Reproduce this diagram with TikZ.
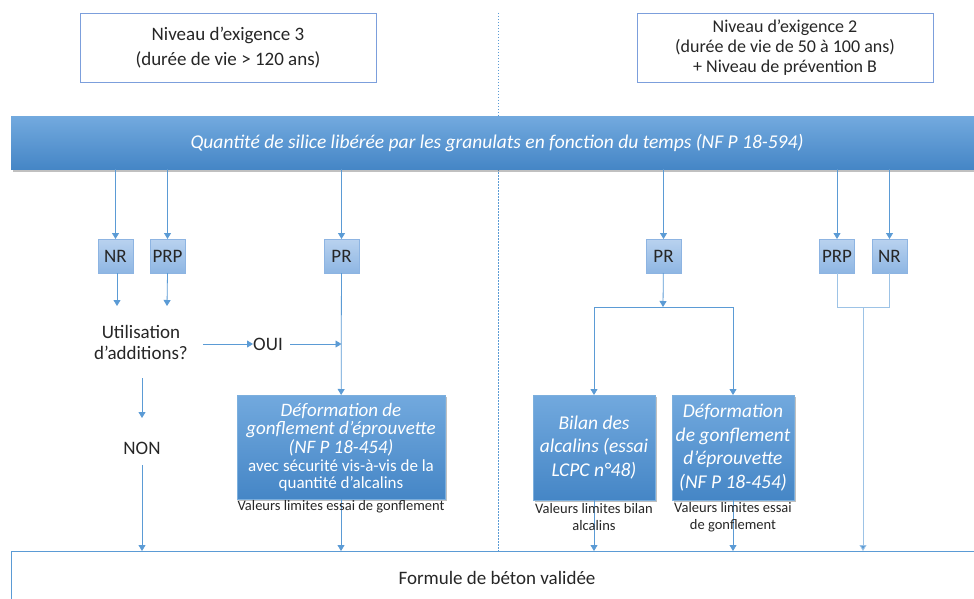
\documentclass[tikz,border=0pt]{standalone}
\usepackage{fontspec}
\setmainfont{Carlito}
\usetikzlibrary{arrows.meta,shadows,positioning}
\definecolor{lb}{HTML}{5B9BD5}
\definecolor{paleb}{HTML}{9DC3E6}
\definecolor{topbd}{HTML}{7C9FDC}
\definecolor{bantop}{HTML}{72A9DE}
\definecolor{banbot}{HTML}{4586C6}
\definecolor{stop}{HTML}{B9D2EF}
\definecolor{sbot}{HTML}{8EB6E3}
\definecolor{sbd}{HTML}{8DB4E2}
\definecolor{txt}{HTML}{262626}
\tikzset{
  topbox/.style={draw=topbd, line width=0.9pt, fill=white, align=center, inner sep=0pt, outer sep=0pt, text=txt},
  banner/.style={top color=bantop, bottom color=banbot, draw=none, inner sep=0pt, outer sep=0pt, text=white,
     drop shadow={shadow xshift=1.5pt, shadow yshift=-2.5pt, opacity=0.35, fill=black!70}},
  bigbox/.style={top color=bantop, bottom color=banbot, draw=lb!80, line width=0.5pt, align=center, inner sep=0pt, outer sep=0pt, text=white,
     drop shadow={shadow xshift=1.5pt, shadow yshift=-2pt, opacity=0.35, fill=black!70}},
  sbox/.style={top color=stop, bottom color=sbot, draw=sbd, line width=0.7pt, minimum width=35pt, minimum height=34pt,
     inner sep=0pt, outer sep=0pt, text=txt, font=\fontsize{19}{22}\selectfont},
  plain/.style={align=center, inner sep=0pt, outer sep=0pt, text=txt, font=\fontsize{19}{21}\selectfont},
  lab/.style={align=center, inner sep=0pt, outer sep=0pt, text=txt, font=\fontsize{14.5}{17.5}\selectfont},
  conn/.style={draw=lb, line width=0.8pt},
  pconn/.style={draw=paleb, line width=0.9pt},
  arr/.style={conn, -{Triangle[width=7pt,length=6pt]}},
  parr/.style={pconn, -{Triangle[width=7pt,length=6pt,fill=lb]}},
  dotline/.style={draw=lb, line width=0.7pt, dash pattern=on 1.5pt off 1.5pt}
}
\begin{document}
\begin{tikzpicture}[x=1pt,y=-1pt]
\useasboundingbox (0,0) rectangle (974,599);
\clip (0,0) rectangle (974,599);
\fill[white] (0,0) rectangle (974,599);

% dotted separator
\coordinate (dT) at (498,13);
\coordinate (dB) at (498,551);
\draw[dotline] (dT) -- (dB);

% top boxes
\node[topbox, minimum width=296pt, minimum height=69pt, font=\fontsize{19}{25}\selectfont] (n3) at (228,47.5)
  {Niveau d’exigence 3\\(durée de vie > 120 ans)};
\node[topbox, minimum width=296pt, minimum height=69pt, font=\fontsize{18}{20}\selectfont] (n2) at (785,47.5)
  {Niveau d’exigence 2\\(durée de vie de 50 à 100 ans)\\+ Niveau de prévention B};

% banner
\node[banner, minimum width=972pt, minimum height=52pt, font=\fontsize{19.5}{22}\selectfont\itshape] (ban) at (497,143)
  {Quantité de silice libérée par les granulats en fonction du temps (NF P 18-594)};

% small boxes
\node[sbox] (nrL) at (115.5,256) {NR};
\node[sbox] (prpL) at (167.5,256) {PRP};
\node[sbox] (prL) at (341.5,256) {PR};
\node[sbox] (prR) at (663.5,256) {PR};
\node[sbox] (prpR) at (837,256) {PRP};
\node[sbox] (nrR) at (889.5,256) {NR};

% bottom box
\node[draw=lb, line width=0.9pt, fill=white, anchor=north west, minimum width=990pt, minimum height=70pt, inner sep=0pt, outer sep=0pt] (bot) at (11,551) {};
\node[plain] (botT) at (497,578) {Formule de béton validée};

% arrows from banner
\foreach \n in {nrL,prpL,prL,prR,prpR,nrR}{
  \draw[arr] (ban.south -| \n) -- (\n);
}

% left side
\node[plain] (q) at (141,342) {Utilisation\\d’additions?};
\coordinate (qNR) at (117,306);
\coordinate (qPRP) at (167,306);
\draw[arr] (nrL.south -| qNR) -- (qNR);
\draw[arr] (prpL.south) -- (qPRP);

\node[plain] (oui) at (268,344) {OUI};
\coordinate (qo) at (203,344);
\coordinate (qo2) at (253,344);
\draw[arr] (qo) -- (qo2);
\coordinate (oo) at (290,344);
\draw[arr] (oo) -- (oo -| prL);

\node[bigbox, minimum width=208pt, minimum height=104pt, font=\fontsize{19}{18.5}\selectfont] (defL) at (341,447)
  {\itshape Déformation de\\
   \itshape gonflement d’éprouvette\\
   \itshape (NF P 18-454)\\
   \fontsize{17}{17}\selectfont avec sécurité vis-à-vis de la\\[-2pt]
   \fontsize{17}{17}\selectfont quantité d’alcalins};
\draw[arr] (prL) -- (defL);
\draw[arr] (defL) -- (defL |- bot.north);
\node[lab] (labL) at (341,507) {Valeurs limites essai de gonflement};

\node[plain] (non) at (142,448) {NON};
\coordinate (nA) at (142,378);
\coordinate (nB) at (142,418);
\coordinate (nC) at (142,465);
\draw[arr] (nA) -- (nB);
\draw[arr] (nC) -- (nC |- bot.north);

% right side
\coordinate (jR) at (663,307);
\node[bigbox, minimum width=122pt, minimum height=105pt, font=\fontsize{19.5}{23.5}\selectfont\itshape] (bil) at (594,447.5)
  {Bilan des\\alcalins (essai\\LCPC n°48)};
\node[bigbox, minimum width=122pt, minimum height=105pt, font=\fontsize{19.5}{23.5}\selectfont\itshape] (defR) at (733,447.5)
  {Déformation\\de gonflement\\d’éprouvette\\(NF P 18-454)};
\draw[arr] (prR) -- (jR);
\draw[conn] (bil.north |- jR) -- (defR.north |- jR);
\draw[arr] (bil.north |- jR) -- (bil);
\draw[arr] (defR.north |- jR) -- (defR);
\draw[arr] (bil) -- (bil |- bot.north);
\draw[arr] (defR) -- (defR |- bot.north);
\node[lab] (labB) at (594,517) {Valeurs limites bilan\\alcalins};
\node[lab] (labD) at (733,517) {Valeurs limites essai\\de gonflement};

\coordinate (jP) at (863,307);
\draw[pconn] (prpR) -- (prpR |- jP) -- (nrR |- jP) -- (nrR);
\draw[parr] (jP) -- (jP |- bot.north);
\end{tikzpicture}
\end{document}
